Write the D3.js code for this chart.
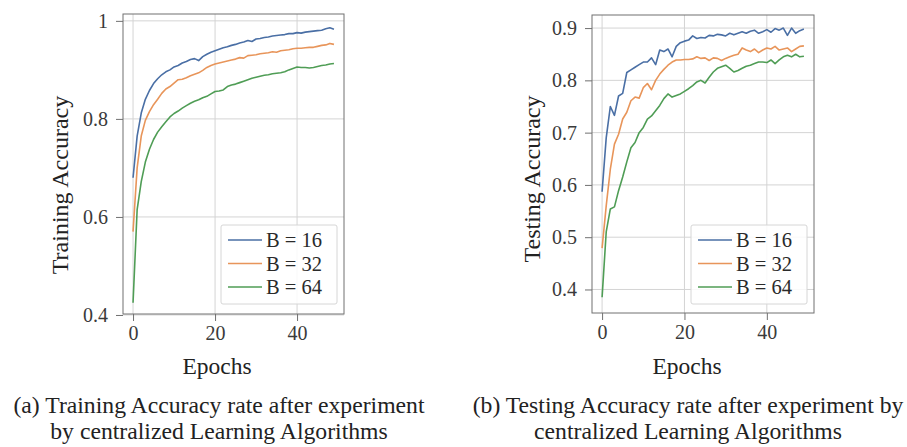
<!DOCTYPE html>
<html>
<head>
<meta charset="utf-8">
<script src="https://cdn.jsdelivr.net/npm/d3@7"></script>
<style>
  body { margin: 0; background: #fff; }
  text { font-family: "Liberation Serif", "DejaVu Serif", serif; }
</style>
</head>
<body>
<div id="graph-container"></div>
<script>
// epochs 0..49
const epochs = d3.range(0, 50);
const seriesNames = ['B = 16', 'B = 32', 'B = 64'];
const xTicks = [0, 20, 40];
const trainTicks = [0.4, 0.6, 0.8, 1];
const testTicks = [0.4, 0.5, 0.6, 0.7, 0.8, 0.9];

const trainB16 = [0.68, 0.765, 0.812, 0.840, 0.858, 0.872, 0.882, 0.890, 0.896, 0.900,
  0.906, 0.909, 0.914, 0.917, 0.921, 0.923, 0.919, 0.927, 0.932, 0.936,
  0.939, 0.942, 0.945, 0.947, 0.950, 0.952, 0.955, 0.957, 0.960, 0.958,
  0.963, 0.964, 0.966, 0.967, 0.969, 0.970, 0.971, 0.972, 0.974, 0.974,
  0.976, 0.975, 0.977, 0.978, 0.979, 0.980, 0.981, 0.984, 0.986, 0.983];
const trainB32 = [0.57, 0.70, 0.765, 0.797, 0.815, 0.829, 0.840, 0.852, 0.861, 0.866,
  0.873, 0.880, 0.881, 0.884, 0.888, 0.891, 0.894, 0.899, 0.905, 0.909,
  0.912, 0.914, 0.916, 0.918, 0.920, 0.922, 0.925, 0.924, 0.929, 0.930,
  0.931, 0.933, 0.934, 0.935, 0.937, 0.936, 0.939, 0.940, 0.941, 0.943,
  0.944, 0.944, 0.945, 0.946, 0.946, 0.948, 0.950, 0.951, 0.954, 0.952];
const trainB64 = [0.425, 0.615, 0.672, 0.712, 0.738, 0.758, 0.773, 0.784, 0.794, 0.804,
  0.811, 0.816, 0.822, 0.827, 0.832, 0.836, 0.839, 0.843, 0.846, 0.851,
  0.856, 0.857, 0.859, 0.866, 0.869, 0.871, 0.874, 0.877, 0.880, 0.883,
  0.885, 0.887, 0.889, 0.890, 0.892, 0.893, 0.894, 0.896, 0.900, 0.903,
  0.906, 0.905, 0.905, 0.904, 0.905, 0.907, 0.909, 0.910, 0.912, 0.913];

const testB16 = [0.587, 0.69, 0.75, 0.733, 0.77, 0.775, 0.815, 0.82, 0.825, 0.83,
  0.835, 0.835, 0.843, 0.83, 0.858, 0.855, 0.86, 0.845, 0.865, 0.872,
  0.875, 0.877, 0.885, 0.88, 0.882, 0.881, 0.886, 0.885, 0.888, 0.887,
  0.885, 0.89, 0.887, 0.89, 0.893, 0.89, 0.894, 0.896, 0.89, 0.893,
  0.897, 0.892, 0.899, 0.896, 0.9, 0.886, 0.9, 0.89, 0.895, 0.898];
const testB32 = [0.479, 0.56, 0.63, 0.678, 0.697, 0.726, 0.739, 0.761, 0.768, 0.766,
  0.786, 0.794, 0.782, 0.8, 0.812, 0.821, 0.829, 0.835, 0.839, 0.839,
  0.84, 0.84, 0.841, 0.845, 0.842, 0.843, 0.838, 0.843, 0.842, 0.838,
  0.842, 0.845, 0.848, 0.85, 0.862, 0.858, 0.855, 0.86, 0.853, 0.858,
  0.862, 0.86, 0.865, 0.858, 0.86, 0.862, 0.855, 0.86, 0.865, 0.866];
const testB64 = [0.385, 0.51, 0.554, 0.558, 0.589, 0.615, 0.644, 0.671, 0.681, 0.7,
  0.71, 0.726, 0.732, 0.742, 0.752, 0.765, 0.774, 0.768, 0.771, 0.774,
  0.779, 0.784, 0.79, 0.797, 0.8, 0.795, 0.806, 0.816, 0.823, 0.826,
  0.829, 0.823, 0.816, 0.819, 0.823, 0.827, 0.829, 0.832, 0.835, 0.835,
  0.834, 0.839, 0.832, 0.839, 0.845, 0.848, 0.845, 0.85, 0.845, 0.846];

const main = () => {
  const width = 907;
  const height = 447;
  const colors = ['#4a6fa5', '#e8955a', '#4f9d55'];
  const GRID = '#d4d4d4';
  const FRAME = '#707070';
  const TICK_LEN = 7;

  const svg = d3.select('#graph-container')
    .append('svg')
    .attr('width', width)
    .attr('height', height)
    .attr('style', 'background:white');

  const panels = [
    {
      left: 123, right: 344, top: 14, bottom: 314,
      yDomain: [0.402, 1.014], yTicks: trainTicks,
      yFmt: (d) => d === 1 ? '1' : d.toFixed(1),
      series: [trainB16, trainB32, trainB64],
      ylabel: 'Training Accuracy', ylabelX: 68, ylabelY: 185,
      xlabelX: 217,
      caption: ['(a) Training Accuracy rate after experiment', 'by centralized Learning Algorithms'],
      captionX: 219,
      legend: { x: 221, y: 225 }
    },
    {
      left: 592, right: 814, top: 15, bottom: 313,
      yDomain: [0.355, 0.925], yTicks: testTicks,
      yFmt: (d) => d.toFixed(1),
      series: [testB16, testB32, testB64],
      ylabel: 'Testing Accuracy', ylabelX: 540, ylabelY: 179,
      xlabelX: 687,
      caption: ['(b) Testing Accuracy rate after experiment by', 'centralized Learning Algorithms'],
      captionX: 688,
      legend: { x: 691, y: 225 }
    }
  ];

  panels.forEach((p, pi) => {
    const g = svg.append('g').attr('class', `panel-${pi}`);

    const xScale = d3.scaleLinear().domain([-2.45, 51.45]).range([p.left, p.right]);
    const yScale = d3.scaleLinear().domain(p.yDomain).range([p.bottom, p.top]);

    // grid
    g.selectAll('line.vgrid')
      .data(xTicks)
      .join('line')
      .attr('class', 'vgrid')
      .attr('x1', (d) => xScale(d)).attr('x2', (d) => xScale(d))
      .attr('y1', p.top).attr('y2', p.bottom)
      .attr('stroke', GRID).attr('stroke-width', 1);

    g.selectAll('line.hgrid')
      .data(p.yTicks)
      .join('line')
      .attr('class', 'hgrid')
      .attr('x1', p.left).attr('x2', p.right)
      .attr('y1', (d) => yScale(d)).attr('y2', (d) => yScale(d))
      .attr('stroke', GRID).attr('stroke-width', 1);

    // axes
    const xAxis = g.append('g')
      .attr('transform', `translate(0,${p.bottom})`)
      .call(d3.axisBottom(xScale).tickValues(xTicks).tickSize(TICK_LEN).tickPadding(5).tickFormat(d3.format('d')));
    const yAxis = g.append('g')
      .attr('transform', `translate(${p.left},0)`)
      .call(d3.axisLeft(yScale).tickValues(p.yTicks).tickSize(TICK_LEN).tickPadding(8).tickFormat(p.yFmt));

    [xAxis, yAxis].forEach((ax) => {
      ax.select('.domain').remove();
      ax.selectAll('.tick line').attr('stroke', FRAME);
      ax.selectAll('.tick text')
        .attr('font-family', '"Liberation Serif", serif')
        .attr('font-size', 20)
        .attr('fill', '#3a3a3a');
    });

    // lines
    const line = d3.line()
      .x((d, i) => xScale(epochs[i]))
      .y((d) => yScale(d));

    g.selectAll('path.series')
      .data(p.series)
      .join('path')
      .attr('class', 'series')
      .attr('d', line)
      .attr('fill', 'none')
      .attr('stroke', (d, i) => colors[i])
      .attr('stroke-width', 1.6)
      .attr('stroke-linejoin', 'round');

    // frame
    g.append('rect')
      .attr('x', p.left).attr('y', p.top)
      .attr('width', p.right - p.left).attr('height', p.bottom - p.top)
      .attr('fill', 'none').attr('stroke', FRAME).attr('stroke-width', 1);

    // legend
    const lg = g.append('g').attr('transform', `translate(${p.legend.x},${p.legend.y})`);
    lg.append('rect')
      .attr('x', 0).attr('y', 0)
      .attr('width', 116).attr('height', 79)
      .attr('rx', 2)
      .attr('fill', 'white').attr('fill-opacity', 0.85)
      .attr('stroke', '#d6d6d6');
    lg.selectAll('line.key')
      .data(seriesNames)
      .join('line')
      .attr('class', 'key')
      .attr('x1', 7).attr('x2', 41)
      .attr('y1', (d, i) => 15 + i * 23.5).attr('y2', (d, i) => 15 + i * 23.5)
      .attr('stroke', (d, i) => colors[i])
      .attr('stroke-width', 1.6);
    lg.selectAll('text.key-text')
      .data(seriesNames)
      .join('text')
      .attr('class', 'key-text')
      .attr('x', 45)
      .attr('y', (d, i) => 15 + i * 23.5)
      .attr('dy', '0.35em')
      .attr('font-size', 20.5)
      .attr('fill', '#2a2a2a')
      .text((d) => d);

    // axis labels
    g.append('text')
      .attr('x', p.xlabelX)
      .attr('y', 374)
      .attr('text-anchor', 'middle')
      .attr('font-size', 23.5)
      .attr('fill', '#222')
      .text('Epochs');

    g.append('text')
      .attr('transform', `translate(${p.ylabelX},${p.ylabelY}) rotate(-90)`)
      .attr('text-anchor', 'middle')
      .attr('font-size', 24)
      .attr('fill', '#222')
      .text(p.ylabel);

    // caption
    g.selectAll('text.caption')
      .data(p.caption)
      .join('text')
      .attr('class', 'caption')
      .attr('x', p.captionX)
      .attr('y', (d, i) => 413 + i * 26)
      .attr('text-anchor', 'middle')
      .attr('font-size', 23.7)
      .attr('fill', '#222')
      .text((d) => d);
  });
};

main();
</script>
</body>
</html>
